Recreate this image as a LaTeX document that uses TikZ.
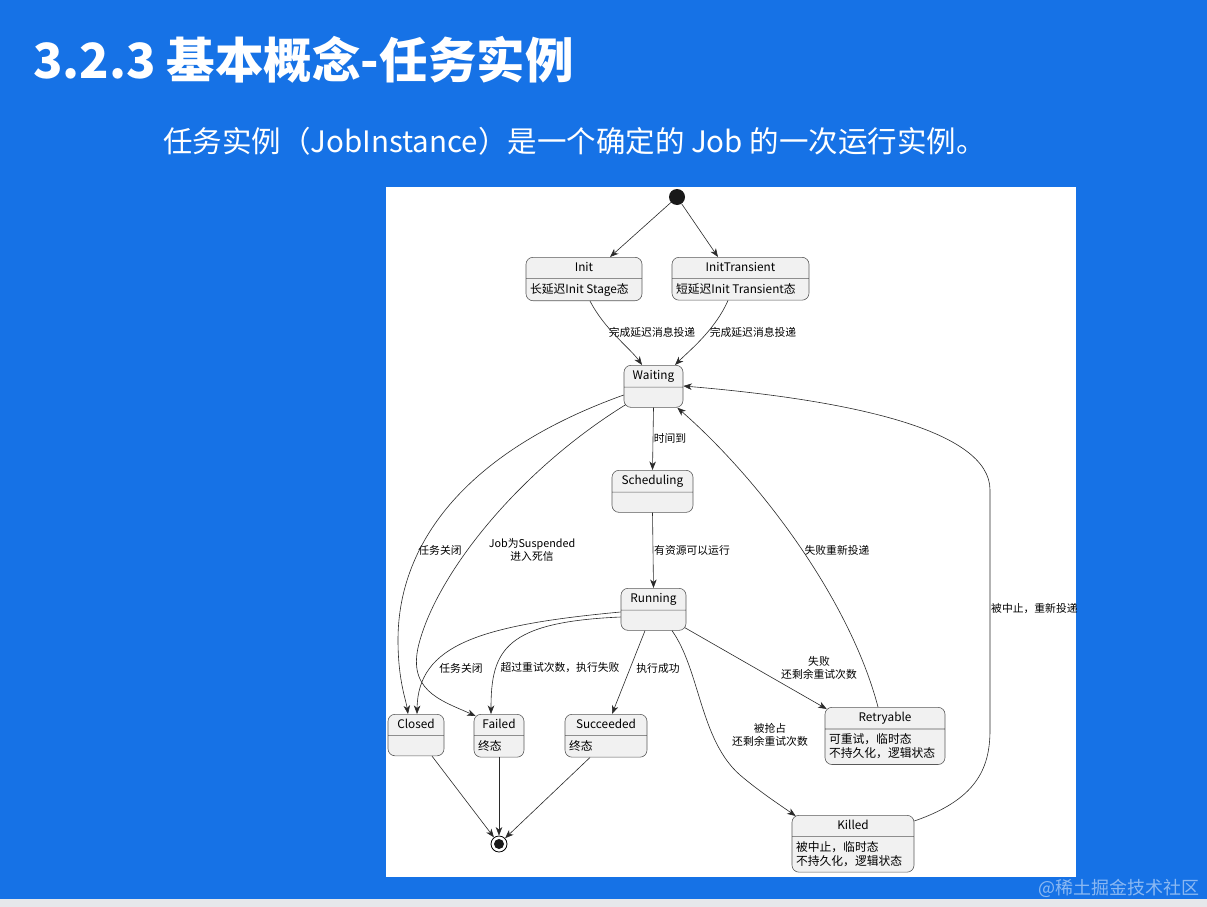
\documentclass[tikz,border=0pt]{standalone}
\usepackage{fontspec}
\setmainfont{Noto Sans CJK SC}
\usepackage{tikz}
\usetikzlibrary{positioning,shapes.multipart,arrows.meta}
\definecolor{SlideBlue}{HTML}{1672E6}
\definecolor{FooterGray}{HTML}{E6E8EB}
\definecolor{StateBg}{HTML}{F1F1F1}
\definecolor{StateLine}{HTML}{5A5A5A}
\definecolor{EdgeDark}{HTML}{2A2A2A}
\newcommand{\hs}{\rule[-2.4pt]{0pt}{12.1pt}}

\begin{document}
\begin{tikzpicture}[x=1pt, y=-1pt, >={Stealth[length=8.5pt,width=6.5pt,inset=2.5pt]},
    state/.style={draw=StateLine, fill=StateBg, line width=0.6pt, rounded corners=7pt,
      rectangle split, rectangle split parts=2, rectangle split part align={center,left},
      rectangle split empty part height=11pt, align=left, inner xsep=4pt, inner ysep=4.3pt,
      anchor=north, font=\fontsize{11.8}{14}\selectfont},
    trans/.style={->, draw=EdgeDark, line width=0.6pt},
    lbl/.style={font=\fontsize{10.8}{12.5}\selectfont, align=center, inner sep=0pt}]
      \useasboundingbox (0,0) rectangle (1207,907);
      \fill[SlideBlue] (0,0) rectangle (1207,899);
      \fill[FooterGray] (0,899) rectangle (1207,907);
      \fill[white] (386,187) rectangle (1076,877);

      % Heading
      \node [anchor=base west, text=white, inner sep=0pt, font=\fontsize{48.5}{52}\selectfont\bfseries] (title) at (33,78)
        {3.2.3 基本概念-任务实例};
      \node [anchor=base west, text=white, inner sep=0pt, font=\fontsize{29.5}{32}\selectfont] (subtitle) at (163,152)
        {任务实例（JobInstance）是一个确定的 Job 的一次运行实例。};

      % Nodes
      \node [circle, fill=black!90, minimum size=16pt, inner sep=0pt] (start) at (677,197) {};

      \node [state, minimum width=116pt] (init) at (584,257)
        {\hs Init\nodepart{two}\hs 长延迟Init Stage态};
      \node [state, minimum width=137pt] (inittrans) at (740.5,257)
        {\hs InitTransient\nodepart{two}\hs 短延迟Init Transient态};
      \node [state, minimum width=59pt] (waiting) at (653.5,365)
        {\hs Waiting\nodepart{two}};
      \node [state, minimum width=81pt] (scheduling) at (652.5,470)
        {\hs Scheduling\nodepart{two}};
      \node [state, minimum width=65pt] (running) at (653.5,588)
        {\hs Running\nodepart{two}};
      \node [state, minimum width=56pt] (closed) at (416,714)
        {\hs Closed\nodepart{two}};
      \node [state, minimum width=50pt] (failed) at (499,714)
        {\hs Failed\nodepart{two}\hs 终态};
      \node [state, minimum width=82pt] (succeeded) at (606,714)
        {\hs Succeeded\nodepart{two}\hs 终态};
      \node [state, minimum width=120pt] (retryable) at (885,707)
        {\hs Retryable\nodepart{two}\hs 可重试，临时态\\\hs 不持久化，逻辑状态};
      \node [state, minimum width=122pt] (killed) at (853,815)
        {\hs Killed\nodepart{two}\hs 被中止，临时态\\\hs 不持久化，逻辑状态};

      \node [circle, draw=black, fill=white, line width=0.8pt, minimum size=16pt, inner sep=0pt] (finish) at (499,844) {};
      \node [circle, fill=black!90, minimum size=10pt, inner sep=0pt] (finishdot) at (499,844) {};

      % Labels
      \node [lbl] (lblinit) at (652,332) {完成延迟消息投递};
      \node [lbl] (lbltrans) at (753,332) {完成延迟消息投递};
      \node [lbl] (lbltime) at (670,438) {时间到};
      \node [lbl] (lblres) at (692,550) {有资源可以运行};
      \node [lbl] (lblclose1) at (440,550) {任务关闭};
      \node [lbl] (lblsusp) at (532,550) {Job为Suspended\\进入死信};
      \node [lbl] (lblclose2) at (461,668) {任务关闭};
      \node [lbl] (lblfail) at (560,668) {超过重试次数，执行失败};
      \node [lbl] (lblok) at (658,668) {执行成功};
      \node [lbl] (lblretry) at (819,668) {失败\\还剩余重试次数};
      \node [lbl] (lblpre) at (770,735) {被抢占\\还剩余重试次数};
      \node [lbl] (lblredo) at (837,550) {失败重新投递};
      \node [lbl, anchor=west] (lblkill) at (991,609) {被中止，重新投递};

      \node [anchor=east, text=white, opacity=0.5, inner sep=0pt, font=\fontsize{18}{20}\selectfont] (mark) at (1200,888)
        {@稀土掘金技术社区};

      % Arrows
      \draw [trans] (start) -- ([xshift=26pt]init.north);
      \draw [trans] (start) -- ([xshift=-22.5pt]inittrans.north);
      \draw [trans] ([xshift=6pt]init.south) .. controls (605,330) and (630,348) .. ([xshift=-11.5pt]waiting.north);
      \draw [trans] ([xshift=-12.5pt]inittrans.south) .. controls (715,330) and (690,350) .. ([xshift=21.5pt]waiting.north);
      \draw [trans] (waiting.south) -- (scheduling.north);
      \draw [trans] (scheduling.south) -- (running.north);
      \draw [trans] ([yshift=-30pt]waiting.north west) .. controls (470,450) and (398,540) .. (398,640)
        .. controls (398,680) and (406,700) .. ([xshift=-8pt]closed.north);
      \draw [trans] ([xshift=2pt,yshift=3pt]waiting.south west) .. controls (520,470) and (440,570) .. (420,640)
        .. controls (405,690) and (440,700) .. ([xshift=2pt,yshift=-2pt]failed.north west);
      \draw [trans] ([yshift=-24pt]running.north west) .. controls (480,625) and (418,645) .. ([xshift=1pt]closed.north);
      \draw [trans] ([yshift=-29pt]running.north west) .. controls (505,622) and (491,650) .. ([xshift=-8pt]failed.north);
      \draw [trans] ([xshift=-8.5pt]running.south) -- ([xshift=6pt]succeeded.north);
      \draw [trans] ([xshift=-1.5pt,yshift=3pt]running.south east) -- ([xshift=2pt,yshift=-2pt]retryable.north west);
      \draw [trans] ([xshift=18.5pt]running.south) .. controls (700,670) and (700,740) .. (740,775)
        .. controls (760,792) and (780,805) .. ([xshift=4pt,yshift=-1pt]killed.north west);
      \draw [trans] ([xshift=-7pt]retryable.north) .. controls (850,600) and (760,480) .. ([xshift=-6pt]waiting.south east);
      \draw [trans] ([yshift=-6pt]killed.north east) .. controls (975,800) and (990,770) .. (990,730) -- (990,490)
        .. controls (990,430) and (850,400) .. ([yshift=-21pt]waiting.north east);
      \draw [trans] ([xshift=16pt]closed.south) -- (finish);
      \draw [trans] (failed.south) -- (finish);
      \draw [trans] ([xshift=-16pt]succeeded.south) -- (finish);
    \end{tikzpicture}
\end{document}
